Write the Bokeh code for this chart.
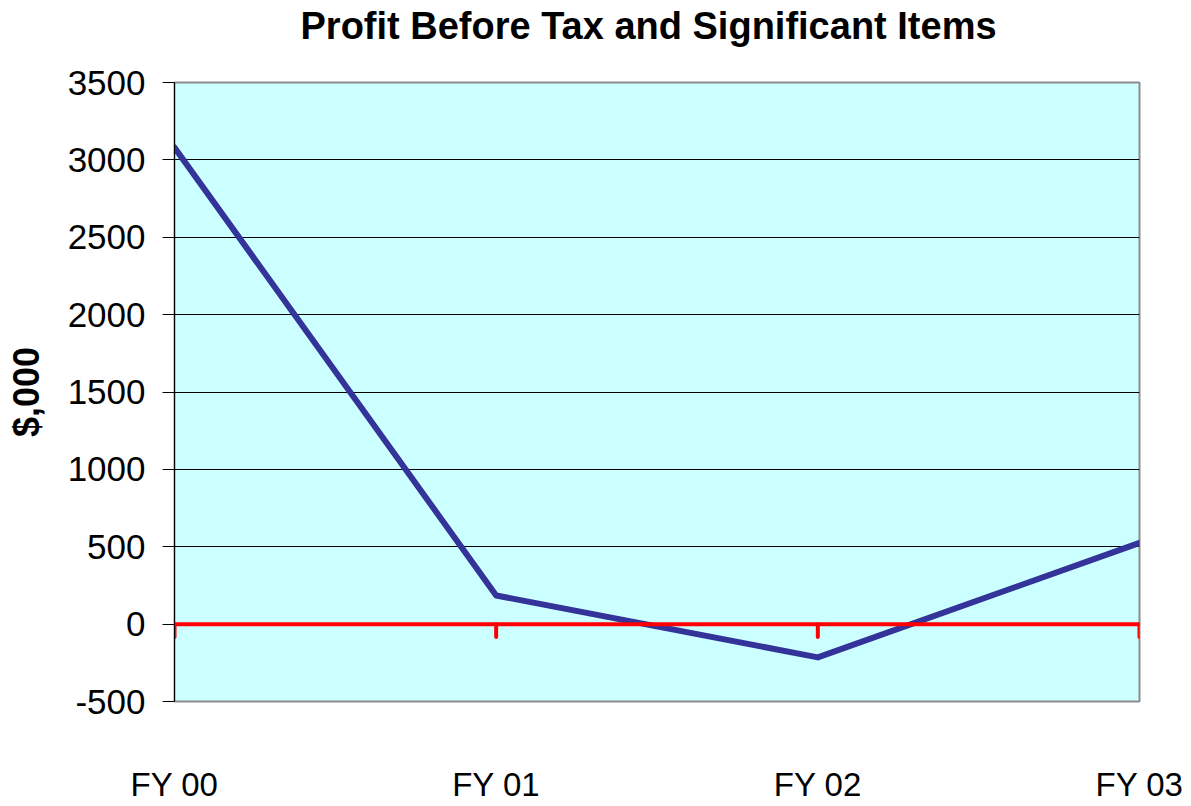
from bokeh.plotting import figure
from bokeh.models import Range1d, FixedTicker, Span, LinearAxis
from bokeh.embed import file_html
from bokeh.resources import INLINE

categories = ["FY 00", "FY 01", "FY 02", "FY 03"]
profit = [3080, 185, -215, 525]
y_ticks = [-500, 0, 500, 1000, 1500, 2000, 2500, 3000, 3500]
title_text = "Profit Before Tax and Significant Items"

xs = list(range(len(categories)))

p = figure(width=1188, height=805, output_backend="svg", toolbar_location=None,
           x_range=Range1d(0, len(categories) - 1), y_range=Range1d(-500, 3500),
           min_border_left=174, min_border_right=49, min_border_top=82, min_border_bottom=104)

p.border_fill_color = "white"
p.background_fill_color = "#CCFFFF"
p.outline_line_color = "#8c8c8c"
p.outline_line_width = 2

FONT = "Liberation Sans"

# invisible spacer between title and plot frame
spacer = LinearAxis(ticker=FixedTicker(ticks=[xs[0]]), major_label_overrides={xs[0]: ""},
                    axis_line_color=None, major_tick_line_color=None, minor_tick_line_color=None,
                    major_tick_out=31, major_tick_in=0, minor_tick_out=0, minor_tick_in=0,
                    major_label_standoff=0, major_label_text_font_size="1px")
p.add_layout(spacer, "above")

# title
p.title.text = title_text
p.title.text_font = FONT
p.title.text_font_size = "38px"
p.title.text_font_style = "bold"
p.title.text_color = "black"
p.title.align = "left"
p.title.offset = 126
p.title.vertical_align = "top"
p.title.standoff = 6

# y axis
p.yaxis.ticker = FixedTicker(ticks=y_ticks)
p.yaxis.major_label_overrides = {t: str(t) for t in y_ticks}
p.yaxis.axis_label = "$,000"
p.yaxis.axis_label_text_font = FONT
p.yaxis.axis_label_text_font_size = "36px"
p.yaxis.axis_label_text_font_style = "bold"
p.yaxis.axis_label_text_color = "black"
p.yaxis.axis_label_standoff = 18
p.yaxis.major_label_text_font = FONT
p.yaxis.major_label_text_font_size = "35px"
p.yaxis.major_label_text_color = "black"
p.yaxis.major_tick_out = 12
p.yaxis.major_tick_in = 0
p.yaxis.minor_tick_out = 0
p.yaxis.minor_tick_in = 0
p.yaxis.major_label_standoff = 17
p.yaxis.axis_line_color = "black"
p.yaxis.major_tick_line_color = "black"

# x axis (labels only, far below)
xaxis = p.below[0]
xaxis.ticker = FixedTicker(ticks=xs)
xaxis.major_label_overrides = {i: c for i, c in zip(xs, categories)}
xaxis.major_label_text_font = FONT
xaxis.major_label_text_font_size = "33px"
xaxis.major_label_text_color = "black"
xaxis.axis_line_color = None
xaxis.major_tick_line_color = None
xaxis.minor_tick_line_color = None
xaxis.major_tick_out = 0
xaxis.major_label_standoff = 64

# grid
p.xgrid.grid_line_color = None
p.ygrid.ticker = FixedTicker(ticks=y_ticks)
p.ygrid.grid_line_color = "black"
p.ygrid.grid_line_width = 1

# zero category axis in red with downward ticks
zero = Span(location=0, dimension="width", line_color="#FF0000", line_width=4)
p.add_layout(zero)
TICK_LEN = -84
p.segment(x0=xs, y0=[0] * len(xs), x1=xs, y1=[TICK_LEN] * len(xs),
          line_color="#FF0000", line_width=4, line_cap="round")

# data line
p.line(xs, profit, line_color="#333399", line_width=6, line_join="round", line_cap="round")

open("out.html", "w").write(file_html(p, INLINE))
